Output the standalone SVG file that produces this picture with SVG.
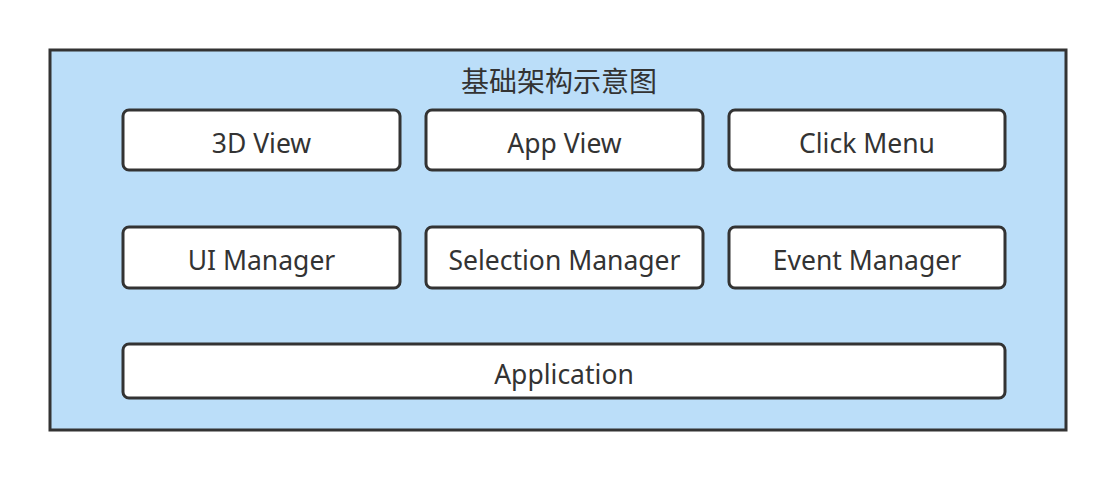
<svg xmlns="http://www.w3.org/2000/svg" width="1116" height="480" viewBox="0 0 1116 480">
<style>
.bg{fill:#bbdef9;stroke:#333333;stroke-width:3}
.n{fill:#ffffff;stroke:#333333;stroke-width:3}
.t{font-family:"Noto Sans","Open Sans","Noto Sans CJK SC",sans-serif;font-size:26.5px;fill:#333333;text-anchor:middle}
.title{font-family:"Noto Sans CJK SC","Noto Sans",sans-serif;font-size:28px;fill:#333333;text-anchor:middle}
</style>
<rect width="1116" height="480" fill="#ffffff"/>
<g id="container">
<rect class="bg" x="50" y="50" width="1016" height="380"/>
<text class="title" x="559" y="92">基础架构示意图</text>
</g>
<g id="n3dview"><rect class="n" x="123" y="110" width="277" height="60" rx="6"/><text class="t" x="261.5" y="153">3D View</text></g>
<g id="nappview"><rect class="n" x="426" y="110" width="277" height="60" rx="6"/><text class="t" x="564.5" y="153">App View</text></g>
<g id="nclickmenu"><rect class="n" x="729" y="110" width="276" height="60" rx="6"/><text class="t" x="867" y="153">Click Menu</text></g>
<g id="nuimanager"><rect class="n" x="123" y="227" width="277" height="61" rx="6"/><text class="t" x="261.5" y="270">UI Manager</text></g>
<g id="nselmanager"><rect class="n" x="426" y="227" width="277" height="61" rx="6"/><text class="t" x="564.5" y="270">Selection Manager</text></g>
<g id="neventmanager"><rect class="n" x="729" y="227" width="276" height="61" rx="6"/><text class="t" x="867" y="270">Event Manager</text></g>
<g id="napplication"><rect class="n" x="123" y="344" width="882" height="54" rx="6"/><text class="t" x="564" y="384">Application</text></g>
<g id="connectors"></g>
</svg>
